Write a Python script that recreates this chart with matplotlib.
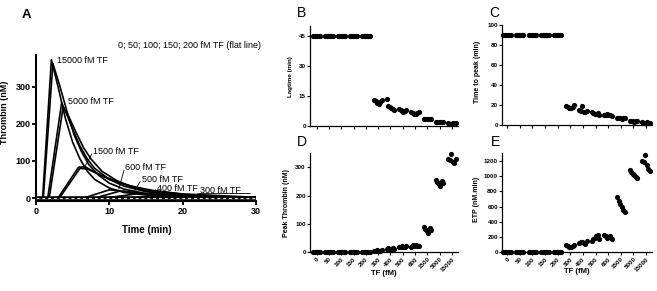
"""
Thrombin generation vs tissue factor (TF) concentration.
Panel A: thrombin curves, panels B-E: lagtime, time to peak, peak, ETP.
Output: out.png
"""
import matplotlib.pyplot as plt
import numpy as np

plt.rcParams['font.family'] = ['Liberation Sans', 'DejaVu Sans']

# --- Panel A: thrombin generation curves (time in min, thrombin in nM) ---
T_15000_A = [0, 0.9, 2.1, 3.0, 4.0, 5.0, 6.0, 7.0, 8.0, 10, 12, 15, 20, 25, 30]
V_15000_A = [0, 0, 372, 300, 215, 150, 105, 72, 50, 27, 15, 8, 3, 1, 0]
T_15000_B = [0, 1.0, 2.3, 3.2, 4.2, 5.2, 6.2, 7.2, 8.5, 10, 12, 15, 20, 30]
V_15000_B = [0, 0, 362, 305, 235, 170, 125, 90, 62, 40, 24, 12, 4, 0]
T_5000_A = [0, 1.6, 3.5, 4.2, 5.0, 6.0, 7.0, 8.0, 10, 12, 15, 20, 25, 30]
V_5000_A = [0, 0, 257, 225, 185, 140, 105, 80, 50, 32, 17, 6, 2, 0]
T_5000_B = [0, 1.8, 3.7, 4.5, 5.5, 6.5, 7.5, 9.0, 11, 13, 16, 20, 30]
V_5000_B = [0, 0, 245, 218, 175, 135, 105, 72, 47, 30, 15, 7, 1]
T_1500_A = [0, 3.0, 5.8, 6.7, 8.0, 10, 12, 15, 20, 25, 30]
V_1500_A = [0, 0, 83, 84, 70, 50, 37, 22, 10, 4, 1]
T_1500_B = [0, 3.2, 6.0, 7.0, 9.0, 11, 13, 16, 20, 30]
V_1500_B = [0, 0, 80, 78, 60, 45, 32, 20, 11, 2]
T_600 = [0, 6.5, 10, 12, 15, 20, 30]
V_600 = [0, 0, 22, 18, 10, 4, 0]
T_500 = [0, 8.0, 11.5, 14, 17, 22, 30]
V_500 = [0, 0, 19, 14, 8, 3, 0]
T_400 = [0, 9.5, 14, 17, 20, 25, 30]
V_400 = [0, 0, 12, 9, 5, 2, 0]
T_300 = [0, 12, 18, 22, 26, 30]
V_300 = [0, 0, 6, 4, 2, 0]
T_FLAT = [0, 30]
V_FLAT = [0, 0]

# --- Panels B-E: replicate values per TF concentration ---
TF_LABELS = ["0", "50", "100", "150", "200", "300", "400", "500", "600",
             "1500", "5000", "15000"]

LAGTIME = [
    [45, 45, 45, 45, 45, 45],
    [45, 45, 45, 45, 45, 45],
    [45, 45, 45, 45, 45, 45],
    [45, 45, 45, 45, 45, 45],
    [45, 45, 45, 45, 45, 45],
    [13, 12.5, 11.5, 11, 12, 13],
    [13.5, 10, 9.5, 9, 8.5, 8],
    [8.5, 8, 7.5, 7, 7.5, 8],
    [7, 6.5, 6, 6, 6.5, 7],
    [3.5, 3.5, 3.5, 3.5, 3.5, 3.5],
    [1.8, 1.8, 1.7, 1.7, 1.8, 1.8],
    [1.2, 1.0, 0.9, 1.1, 1.0, 1.2],
]
TIME_TO_PEAK = [
    [90, 90, 90, 90, 90, 90],
    [90, 90, 90, 90, 90, 90],
    [90, 90, 90, 90, 90, 90],
    [90, 90, 90, 90, 90, 90],
    [90, 90, 90, 90, 90, 90],
    [19, 18, 17, 17.5, 18.5, 20],
    [15, 14, 19.5, 13.5, 13, 14],
    [13, 12, 11.5, 11, 12.5, 10.5],
    [10, 10.5, 11, 10, 10.5, 9.5],
    [7, 7.5, 7, 6.5, 7, 7],
    [4, 4.5, 4, 3.5, 4, 4],
    [3, 2.5, 2, 3, 2.5, 2],
]
PEAK_THROMBIN = [
    [0, 0, 0, 0, 0, 0],
    [0, 0, 0, 0, 0, 0],
    [0, 0, 0, 0, 0, 0],
    [0, 0, 0, 0, 0, 0],
    [0, 0, 0, 0, 0, 0],
    [4, 6, 8, 5, 3, 7],
    [10, 14, 12, 11, 15, 13],
    [20, 18, 22, 19, 17, 21],
    [20, 24, 22, 26, 21, 23],
    [90, 82, 75, 68, 85, 78],
    [255, 248, 240, 235, 250, 245],
    [330, 325, 345, 320, 315, 330],
]
ETP = [
    [0, 0, 0, 0, 0, 0],
    [0, 0, 0, 0, 0, 0],
    [0, 0, 0, 0, 0, 0],
    [0, 0, 0, 0, 0, 0],
    [0, 0, 0, 0, 0, 0],
    [90, 80, 70, 75, 85, 95],
    [120, 130, 140, 125, 115, 145],
    [150, 170, 190, 210, 230, 180],
    [230, 210, 190, 200, 220, 180],
    [720, 680, 640, 600, 560, 530],
    [1080, 1050, 1030, 1010, 990, 975],
    [1200, 1180, 1275, 1140, 1100, 1070],
]

W, H = 657, 291
fig = plt.figure(figsize=(W / 100, H / 100), dpi=100)


def rect(left, top, right, bottom):
    # pixel box -> figure fraction
    return [left / W, (H - bottom) / H, (right - left) / W, (bottom - top) / H]


def ftext(x, y, s, **kw):
    fig.text(x / W, (H - y) / H, s, ha='center', va='center', **kw)


# ---------------- Panel A ----------------
ax = fig.add_axes(rect(36, 55, 256, 201))
curves = [(T_15000_A, V_15000_A), (T_15000_B, V_15000_B),
          (T_5000_A, V_5000_A), (T_5000_B, V_5000_B),
          (T_1500_A, V_1500_A), (T_1500_B, V_1500_B),
          (T_600, V_600), (T_500, V_500), (T_400, V_400), (T_300, V_300)]
for t, v in curves:
    ax.plot(t, v, color='black', lw=1.2)
ax.plot(T_FLAT, V_FLAT, color='black', lw=2.6)
ax.plot(T_FLAT, V_FLAT, color='white', lw=0.7, dashes=(3, 3))

ax.set_xlim(0, 30)
ax.set_ylim(-8, 385)
ax.set_xticks([0, 10, 20, 30])
ax.set_yticks([0, 100, 200, 300])
for s in ['top', 'right']:
    ax.spines[s].set_visible(False)
for s in ['left', 'bottom']:
    ax.spines[s].set_linewidth(1.5)
ax.tick_params(width=1.3, length=3, labelsize=6.5, pad=1)
for lab in ax.get_xticklabels() + ax.get_yticklabels():
    lab.set_fontweight('bold')

ann = dict(fontsize=6.5, va='center', ha='left')
ax.text(2.9, 370, "15000 fM TF", **ann)
ax.text(4.4, 260, "5000 fM TF", **ann)
ax.text(7.8, 125, "1500 fM TF", **ann)
ax.plot([7.6, 6.7], [118, 86], color='black', lw=0.6)
ax.text(12.2, 82, "600 fM TF", **ann)
ax.plot([12.0, 11.3], [75, 24], color='black', lw=0.6)
ax.text(14.4, 51, "500 fM TF", **ann)
ax.plot([14.2, 13.4], [44, 18], color='black', lw=0.6)
ax.text(16.5, 26, "400 fM TF", **ann)
ax.plot([16.3, 15.6], [22, 11], color='black', lw=0.6)
ax.text(22.4, 19, "300 fM TF", clip_on=False, **ann)
ax.plot([21.0, 22.3, 29.2], [6, 12, 12], color='black', lw=0.6)
ax.text(11.2, 410, "0; 50; 100; 150; 200 fM TF (flat line)",
        clip_on=False, **ann)

ftext(26.7, 14.7, "A", fontsize=9.5, fontweight='bold')
ftext(147, 230, "Time (min)", fontsize=7, fontweight='bold')
ftext(5, 112, "Thrombin (nM)", fontsize=6.5, fontweight='bold', rotation=90)

# ---------------- Panels B-E ----------------
offsets = np.array([-0.3, -0.18, -0.06, 0.06, 0.18, 0.3])


def scatter_panel(box, data, ylim, yticks, xlim, show_xlabels):
    a = fig.add_axes(rect(*box))
    for i, vals in enumerate(data):
        a.scatter(i + offsets, vals, s=14, color='black', linewidths=0,
                  clip_on=False, zorder=3)
    a.set_xlim(*xlim)
    a.set_ylim(*ylim)
    a.set_yticks(yticks)
    a.set_xticks(np.arange(len(TF_LABELS)))
    for s in ['top', 'right']:
        a.spines[s].set_visible(False)
    for s in ['left', 'bottom']:
        a.spines[s].set_linewidth(0.9)
    a.tick_params(width=0.8, length=2, labelsize=4.5, pad=1)
    for lab in a.get_yticklabels():
        lab.set_fontweight('bold')
    if show_xlabels:
        a.set_xticklabels(TF_LABELS, rotation=45, ha='right',
                          rotation_mode='anchor', fontsize=4.5,
                          fontweight='bold')
    else:
        a.set_xticklabels([])
    return a


scatter_panel((310, 25.7, 458, 125.5), LAGTIME, (0, 50), [0, 15, 30, 45],
              (-0.55, 11.5), False)
scatter_panel((502, 25, 652, 125), TIME_TO_PEAK, (0, 100),
              [0, 20, 40, 60, 80, 100], (-0.4, 11.47), False)
scatter_panel((310, 153, 458, 252.3), PEAK_THROMBIN, (0, 350),
              [0, 100, 200, 300], (-0.55, 11.5), True)
scatter_panel((502, 153.3, 652, 252.3), ETP, (0, 1300),
              [0, 200, 400, 600, 800, 1000, 1200], (-0.4, 11.47), True)

ftext(301.5, 13.3, "B", fontsize=10)
ftext(494, 13, "C", fontsize=10)
ftext(301.5, 142, "D", fontsize=10)
ftext(495.5, 142, "E", fontsize=10)

ftext(290.5, 76.7, "Lagtime (min)", fontsize=4.5, fontweight='bold', rotation=90)
ftext(477.5, 72, "Time to peak (min)", fontsize=5, fontweight='bold', rotation=90)
ftext(287, 203, "Peak Thrombin (nM)", fontsize=5, fontweight='bold', rotation=90)
ftext(476, 199, "ETP (nM.min)", fontsize=5, fontweight='bold', rotation=90)
ftext(384.3, 273.3, "TF (fM)", fontsize=5.5, fontweight='bold')
ftext(577.3, 271.7, "TF (fM)", fontsize=5.5, fontweight='bold')

fig.savefig("out.png", dpi=100)
